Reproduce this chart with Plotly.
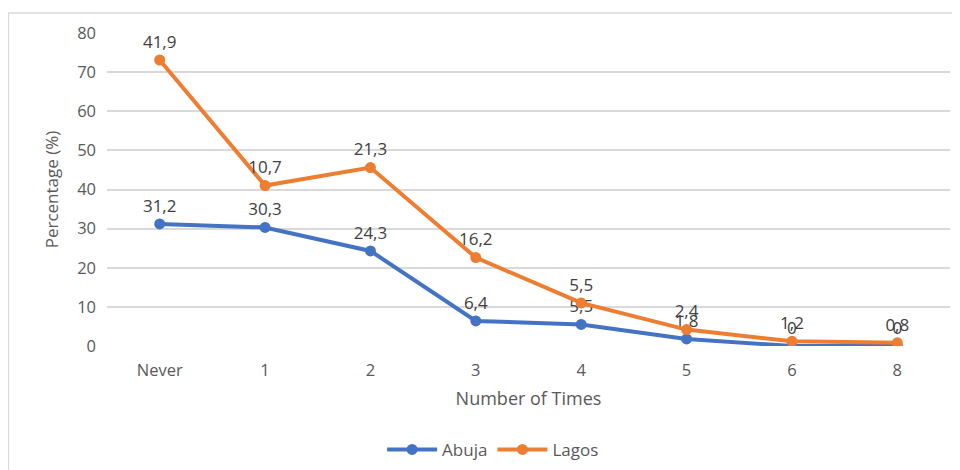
import plotly.graph_objects as go

categories = ["Never", "1", "2", "3", "4", "5", "6", "8"]
abuja = [31.2, 30.3, 24.3, 6.4, 5.5, 1.8, 0, 0]
lagos = [41.9, 10.7, 21.3, 16.2, 5.5, 2.4, 1.2, 0.8]
y_ticks = [0, 10, 20, 30, 40, 50, 60, 70, 80]

def fmt(v):
    return ("%g" % v).replace(".", ",")

font_fam = "Open Sans, Liberation Sans, sans-serif"
grey = "#595959"

fig = go.Figure()
fig.add_trace(go.Scatter(
    x=categories, y=abuja, name="Abuja", stackgroup="s", fill="none",
    mode="lines+markers+text", text=[fmt(v) for v in abuja],
    textposition="top center", textfont=dict(size=17, color="#404040", family=font_fam),
    line=dict(color="#4472C4", width=4), marker=dict(size=11, color="#4472C4"),
))
fig.add_trace(go.Scatter(
    x=categories, y=lagos, name="Lagos", stackgroup="s", fill="none",
    mode="lines+markers+text", text=[fmt(v) for v in lagos],
    textposition="top center", textfont=dict(size=17, color="#404040", family=font_fam),
    line=dict(color="#ED7D31", width=4), marker=dict(size=11, color="#ED7D31"),
))

fig.update_layout(
    width=952, height=462,
    margin=dict(l=99, r=10, t=25, b=124, autoexpand=False),
    paper_bgcolor="white", plot_bgcolor="white",
    font=dict(family=font_fam, color=grey, size=16),
    showlegend=True,
    legend=dict(orientation="h", x=0.458, xanchor="center", y=-0.332, yanchor="middle",
                font=dict(size=17, color=grey), traceorder="normal", itemwidth=50),
    xaxis=dict(title=dict(text="Number of Times", font=dict(size=18, color=grey), standoff=12),
               range=[-0.5, 7.5], automargin=False, ticklabelstandoff=12,
               showgrid=False, showline=False, ticks="", tickfont=dict(size=16.5, color=grey)),
    yaxis=dict(title=dict(text="Percentage (%)", font=dict(size=17, color=grey), standoff=14),
               range=[0, 80], tickvals=y_ticks, showgrid=True, gridcolor="#d9d9d9",
               automargin=False, ticklabelstandoff=10,
               gridwidth=1.5, zeroline=False, showline=False, ticks="",
               tickfont=dict(size=16.5, color=grey)),
    shapes=[dict(type="rect", xref="paper", yref="paper",
                 x0=-0.117, x1=1.008, y0=-0.6, y1=1.064,
                 line=dict(color="#d9d9d9", width=1.5), fillcolor="rgba(0,0,0,0)", layer="below")],
)
fig.write_html("out.html")
